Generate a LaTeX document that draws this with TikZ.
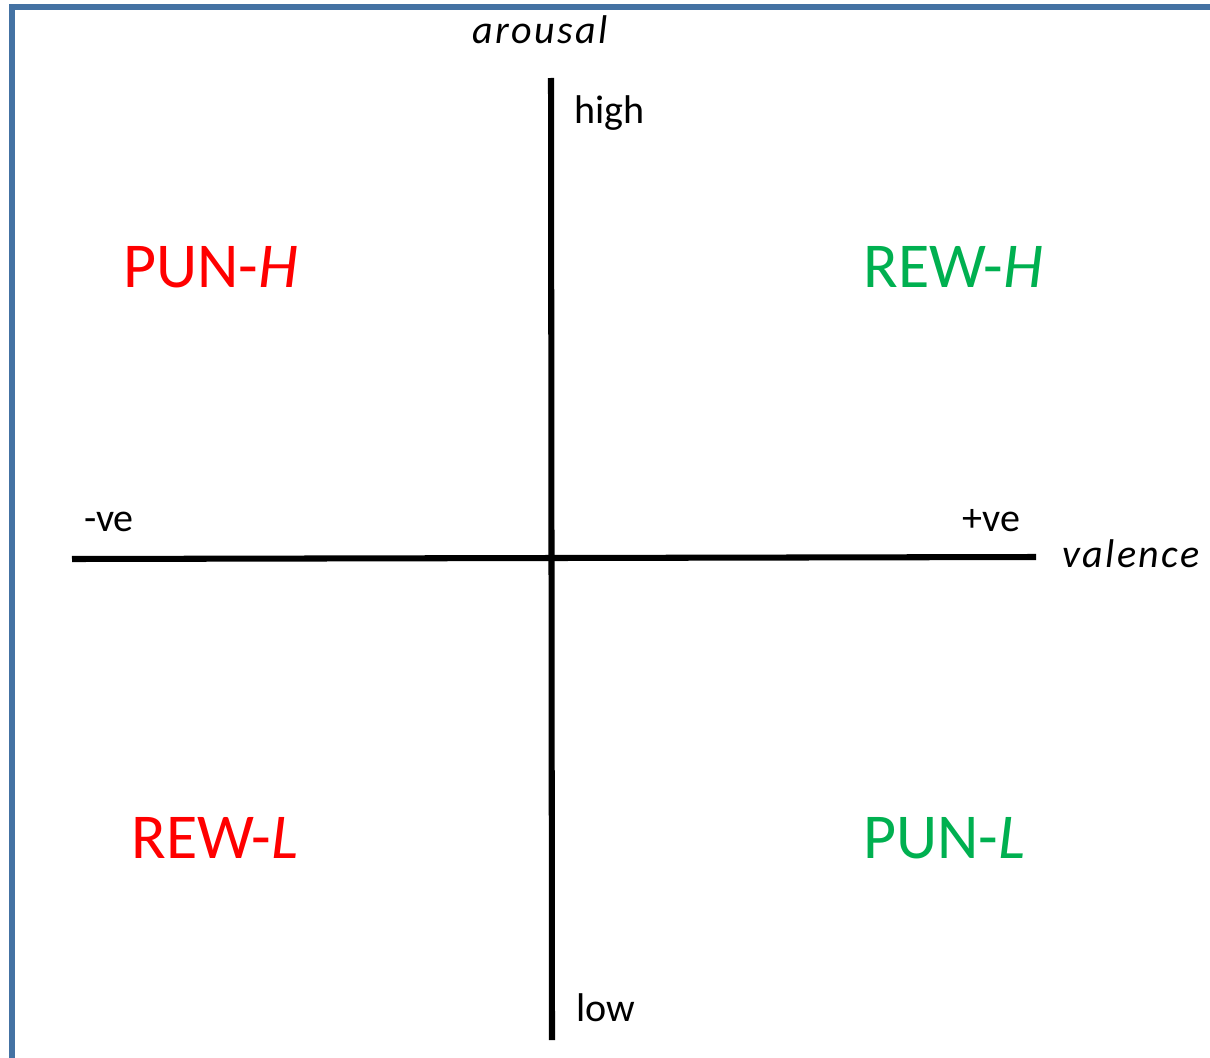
\documentclass[tikz,border=0pt]{standalone}
\usepackage{fontspec}
\setmainfont{Carlito}
\definecolor{frameblue}{RGB}{68,114,163}
\definecolor{punred}{RGB}{255,0,0}
\definecolor{rewgreen}{RGB}{0,176,80}
\tikzset{
    axis/.style = {line width=4.3pt, black},
    lbl/.style = {inner sep=0pt, anchor=base west, font=\fontsize{28.5}{32}\selectfont},
    axislbl/.style = {inner sep=0pt, anchor=base west, font=\fontsize{28.5}{32}\selectfont\itshape\addfontfeatures{LetterSpace=6}},
    quad/.style = {inner sep=0pt, anchor=base west, font=\fontsize{45.5}{50}\selectfont}
}

\begin{document}
\begin{tikzpicture}[x=0.025cm, y=-0.025cm]
            \useasboundingbox (0,0) rectangle (1210,1058);
            \clip (0,0) rectangle (1210,1058);
            \draw[line width=4pt, frameblue] (12,7) rectangle (1240,1090);
            \coordinate (top) at (551,78);
            \coordinate (bottom) at (552,1040);
            \coordinate (left) at (72,559);
            \coordinate (right) at (1036,557);
            \draw[axis] (top) -- (bottom);
            \draw[axis] (left) -- (right);
            \node[axislbl] (arousal) at (472,44) {arousal};
            \node[axislbl] (valence) at (1062,567) {valence};
            \node[lbl] (high) at (574,123) {high};
            \node[lbl] (low) at (576,1021) {low};
            \node[lbl] (neg) at (84,531) {-ve};
            \node[lbl] (pos) at (962,531) {+ve};
            \node[quad, punred] (punh) at (123,287) {PUN-\textit{H}};
            \node[quad, rewgreen] (rewh) at (863,287) {REW-\textit{H}};
            \node[quad, punred] (rewl) at (131,858) {REW-\textit{L}};
            \node[quad, rewgreen] (punl) at (863,858) {PUN-\textit{L}};
        \end{tikzpicture}
\end{document}
